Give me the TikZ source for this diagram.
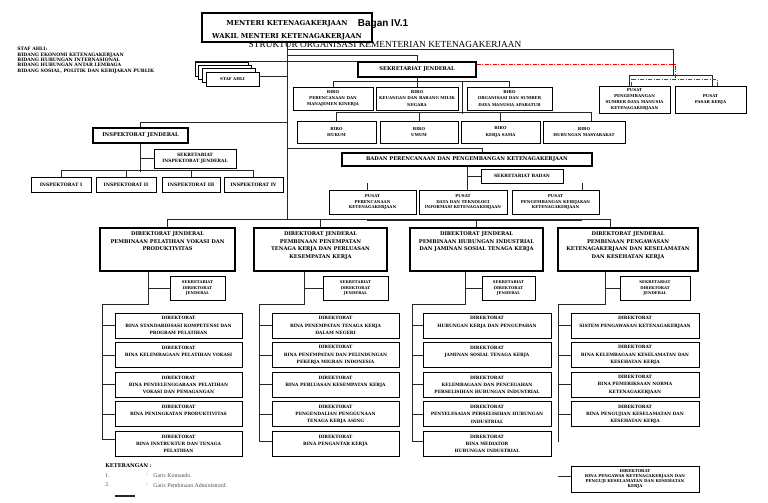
\documentclass[tikz,border=0pt]{standalone}
\usepackage{fontspec}
\setmainfont{Liberation Serif}
\newfontfamily\tebal{DejaVu Serif}
\newfontfamily\sansbagan{Liberation Sans}
\usepackage{xcolor}
\usepackage{tikz}
\usetikzlibrary{positioning}
\newcommand{\fmenteri}{\tebal\fontsize{6.8}{13}\selectfont\bfseries}
\newcommand{\fjudul}{\fontsize{9.3}{11}\selectfont}
\newcommand{\fbagan}{\sansbagan\fontsize{10}{12}\selectfont\bfseries}
\newcommand{\fdj}{\tebal\fontsize{5.15}{7.7}\selectfont\bfseries}
\newcommand{\finsp}{\tebal\fontsize{4.6}{6.5}\selectfont\bfseries}
\newcommand{\fdir}{\tebal\fontsize{4.4}{7.3}\selectfont\bfseries}
\newcommand{\fskij}{\tebal\fontsize{4.4}{5.6}\selectfont\bfseries}
\newcommand{\fbiro}{\tebal\fontsize{4.0}{6.2}\selectfont\bfseries}
\newcommand{\fpusat}{\tebal\fontsize{4.0}{5.9}\selectfont\bfseries}
\newcommand{\fsekr}{\tebal\fontsize{3.8}{5.3}\selectfont\bfseries}
\newcommand{\fpengawas}{\tebal\fontsize{4.0}{5.2}\selectfont\bfseries}
\newcommand{\fstaf}{\tebal\fontsize{4.6}{5.3}\selectfont\bfseries}
\newcommand{\fket}{\fontsize{5.8}{7}\selectfont}

\begin{document}
\begin{tikzpicture}[x=1pt, y=-1pt, line width=0.8pt, draw=black!85,
		unit/.style 2 args={
			draw=black,
			rectangle,
			minimum width=#1,
			minimum height=#2,
			inner sep=0pt,
			align=center,
			fill=white,
			line width=0.9pt},
		eselon/.style 2 args={unit={#1}{#2}, line width=1.8pt},
		adm/.style={red, line width=0.8pt, dash pattern=on 4pt off 1.5pt on 1pt off 1.5pt}
		]
		\useasboundingbox (0,0) rectangle (768,503);
		
		% draw titles
		\node[eselon={170}{29}] (menteri) at (287,27.5) {};
		\node[font=\fmenteri, align=center, inner sep=0pt] (menteriteks) at (287,30.5) {MENTERI KETENAGAKERJAAN\\WAKIL MENTERI KETENAGAKERJAAN};
		\node[font=\fbagan, inner sep=0pt] (bagan) at (383,24.5) {Bagan IV.1};
		\node[font=\fjudul, inner sep=0pt] (judul) at (385,44.5) {STRUKTUR ORGANISASI KEMENTERIAN KETENAGAKERJAAN};
		
		% staf ahli
		\node[anchor=north west, align=left, inner sep=0pt, font=\fstaf] (stafteks) at (17,47) {STAF AHLI:\\BIDANG EKONOMI KETENAGAKERJAAN\\BIDANG HUBUNGAN INTERNASIONAL\\BIDANG HUBUNGAN ANTAR LEMBAGA\\BIDANG SOSIAL, POLITIK DAN KEBIJAKAN PUBLIK};
		\foreach \k in {3,2,1}
		\node[unit={53}{14}, line width=0.7pt] (sa\k) at (232.5-3.7*\k, 79-3.3*\k) {};
		\node[unit={53}{14}, line width=0.7pt, font=\fbiro] (sa0) at (232.5,79) {STAF AHLI};
		
		% sekretariat jenderal and biro
		\node[eselon={118}{15}, font=\fdj] (sekjen) at (417,69.5) {SEKRETARIAT JENDERAL};
		\node[unit={80}{23}, font=\fbiro] (b11) at (333,98.5) {BIRO\\PERENCANAAN DAN\\MANAJEMEN KINERJA};
		\node[unit={82}{23}, font=\fbiro] (b12) at (417,98.5) {BIRO\\KEUANGAN DAN BARANG MILIK\\NEGARA};
		\node[unit={85}{23}, font=\fbiro] (b13) at (509.5,98.5) {BIRO\\ORGANISASI DAN SUMBER\\DAYA MANUSIA APARATUR};
		\node[unit={79}{22}, font=\fbiro] (b21) at (336.5,132) {BIRO\\HUKUM};
		\node[unit={78}{22}, font=\fbiro] (b22) at (419,132) {BIRO\\UMUM};
		\node[unit={79}{22}, font=\fbiro] (b23) at (500.5,132) {BIRO\\KERJA SAMA};
		\node[unit={82}{22}, font=\fbiro] (b24) at (584,132) {BIRO\\HUBUNGAN MASYARAKAT};
		
		% pusat under the minister
		\node[unit={71}{27}, font=\fpusat] (ppsdm) at (634.5,99.5) {PUSAT\\PENGEMBANGAN\\SUMBER DAYA MANUSIA\\KETENAGAKERJAAN};
		\node[unit={71}{27}, font=\fpusat] (pk) at (710.5,99.5) {PUSAT\\PASAR KERJA};
		
		% inspektorat
		\node[eselon={95}{15}, font=\fdj] (ij) at (140.5,135.5) {INSPEKTORAT JENDERAL};
		\node[unit={82}{19}, font=\fskij] (skij) at (195,158.5) {SEKRETARIAT\\INSPEKTORAT JENDERAL};
		\foreach \nama/\x/\w [count=\i] in {I/61/60, II/126/60, III/191/58, IV/253.5/59}
		\node[unit={\w}{15}, font=\finsp] (in\i) at (\x,184.5) {INSPEKTORAT \nama};
		
		% badan
		\node[unit={250}{13}, line width=1.2pt, font=\fdj] (badan) at (467,159.5) {BADAN PERENCANAAN DAN PENGEMBANGAN KETENAGAKERJAAN};
		\node[unit={82}{14}, font=\fdir] (skb) at (522,176) {SEKRETARIAT BADAN};
		\node[unit={87}{24}, font=\fpusat] (pp1) at (372.5,202) {PUSAT\\PERENCANAAN\\KETENAGAKERJAAN};
		\node[unit={88}{24}, font=\fpusat] (pp2) at (463,202) {PUSAT\\DATA DAN TEKNOLOGI\\INFORMASI KETENAGAKERJAAN};
		\node[unit={87}{24}, font=\fpusat] (pp3) at (555.5,202) {PUSAT\\PENGEMBANGAN KEBIJAKAN\\KETENAGAKERJAAN};
		
		% direktorat jenderal
		\foreach \k/\cx/\cw/\txt in {1/167.5/135/{DIREKTORAT JENDERAL\\PEMBINAAN PELATIHAN VOKASI DAN\\PRODUKTIVITAS},
			2/320.5/133/{DIREKTORAT JENDERAL\\PEMBINAAN PENEMPATAN\\TENAGA KERJA DAN PERLUASAN\\KESEMPATAN KERJA},
			3/476.5/133/{DIREKTORAT JENDERAL\\PEMBINAAN HUBUNGAN INDUSTRIAL\\DAN JAMINAN SOSIAL TENAGA KERJA},
			4/628/140/{DIREKTORAT JENDERAL\\PEMBINAAN PENGAWASAN\\KETENAGAKERJAAN DAN KESELAMATAN\\DAN KESEHATAN KERJA}} {
			\node[eselon={\cw}{43}] (dj\k) at (\cx,249.5) {};
			\node[font=\fdj, align=center, anchor=north, inner sep=0pt] (djt\k) at ([yshift=-4pt]dj\k.north) {\txt};
		}
		
		% direktorat
		\foreach \txt [count=\r] in {{DIREKTORAT\\BINA STANDARDISASI KOMPETENSI DAN\\PROGRAM PELATIHAN},
			{DIREKTORAT\\BINA KELEMBAGAAN PELATIHAN VOKASI\\~},
			{DIREKTORAT\\BINA PENYELENGGARAAN PELATIHAN\\VOKASI DAN PEMAGANGAN},
			{DIREKTORAT\\BINA PENINGKATAN PRODUKTIVITAS\\~},
			{DIREKTORAT\\BINA INSTRUKTUR DAN TENAGA\\PELATIHAN}}
		\node[unit={127}{25}, font=\fdir] (d1\r) at (178.5,295.9+29.6*\r) {\txt};
		\foreach \txt [count=\r] in {{DIREKTORAT\\BINA PENEMPATAN TENAGA KERJA\\DALAM NEGERI},
			{DIREKTORAT\\BINA PENEMPATAN DAN PELINDUNGAN\\PEKERJA MIGRAN INDONESIA},
			{DIREKTORAT\\BINA PERLUASAN KESEMPATAN KERJA\\~},
			{DIREKTORAT\\PENGENDALIAN PENGGUNAAN\\TENAGA KERJA ASING},
			{DIREKTORAT\\BINA PENGANTAR KERJA\\~}}
		\node[unit={127}{25}, font=\fdir] (d2\r) at (335.5,295.9+29.6*\r) {\txt};
		\foreach \txt [count=\r] in {{DIREKTORAT\\HUBUNGAN KERJA DAN PENGUPAHAN\\~},
			{DIREKTORAT\\JAMINAN SOSIAL TENAGA KERJA\\~},
			{DIREKTORAT\\KELEMBAGAAN DAN PENCEGAHAN\\PERSELISIHAN HUBUNGAN INDUSTRIAL},
			{DIREKTORAT\\PENYELESAIAN PERSELISIHAN HUBUNGAN\\INDUSTRIAL},
			{DIREKTORAT\\BINA MEDIATOR\\HUBUNGAN INDUSTRIAL}}
		\node[unit={128}{25}, font=\fdir] (d3\r) at (487,295.9+29.6*\r) {\txt};
		\foreach \txt [count=\r] in {{DIREKTORAT\\SISTEM PENGAWASAN KETENAGAKERJAAN\\~},
			{DIREKTORAT\\BINA KELEMBAGAAN KESELAMATAN DAN\\KESEHATAN KERJA},
			{DIREKTORAT\\BINA PEMERIKSAAN NORMA\\KETENAGAKERJAAN},
			{DIREKTORAT\\BINA PENGUJIAN KESELAMATAN DAN\\KESEHATAN KERJA}}
		\node[unit={128}{25}, font=\fdir] (d4\r) at (635,295.9+29.6*\r) {\txt};
		\node[unit={128}{26}, font=\fpengawas] (d45) at (635,479) {DIREKTORAT\\BINA PENGAWAS KETENAGAKERJAAN DAN\\PENGUJI KESELAMATAN DAN KESEHATAN\\KERJA};
		
		% draw garis komando
		\coordinate (hub) at (287,219.5);
		\coordinate (j1) at (287,49);
		\coordinate (j2) at (673,49);
		\coordinate (j3) at (673,75);
		\coordinate (j4) at (287,55);
		\coordinate (j5) at (287,148);
		\coordinate (j6) at (482,148);
		\coordinate (j7) at (287,122);
		\coordinate (b1) at (629,75);
		\coordinate (b2) at (712,75);
		\coordinate (v1) at (462,82);
		\coordinate (v2) at (462,114);
		\coordinate (tkA) at (367,183);
		\coordinate (tkB) at (582,183);
		\draw (menteri.south) -- (hub);
		\draw (j1) -- (j2) -- (j3);
		\draw (ppsdm.north -| b1) -- (b1) -- (b2) -- (pk.north -| b2);
		\draw (j4) -| (sekjen.north);
		\draw ([yshift=3pt]sa0.east) -- ([yshift=3pt]sa0.east -| hub);
		\draw[line width=1.5pt] (sa3.north west) -- (sa3.north west -| sekjen.west);
		\draw (sekjen.south) -- (b12.north);
		\draw (b11.north) -- ++(0,-5) -| (b13.north);
		\draw (v1) -- (v2);
		\draw (b21.north) -- ++(0,-8) -| ([xshift=7pt]b24.north);
		\draw (b22.north) -- ++(0,-8);
		\draw (b23.north) -- ++(0,-8);
		\draw (j7) -| (ij.north);
		\draw (ij.south) -- ++(0,28);
		\draw (ij.south |- skij.west) -- (skij.west);
		\draw (in1.north) -- ++(0,-6) -| (in4.north);
		\draw (in2.north) -- ++(0,-6);
		\draw (in3.north) -- ++(0,-6);
		\draw (j5) -- (j6) -- (j6 |- badan.north);
		\draw (badan.south) -- (badan.south |- pp2.north);
		\draw (badan.south |- skb.west) -- (skb.west);
		\draw (pp1.north -| tkA) -- (tkA);
		\draw (pp3.north -| tkB) -- (tkB);
		\draw (dj1.north) |- (hub) -| ([xshift=-18pt]dj4.north);
		\draw (dj2.north) -- (dj2.north |- hub);
		\draw (dj3.north) -- (dj3.north |- hub);
		\draw[line width=1.5pt] ([yshift=-1pt]tkA |- hub) -- ([yshift=-1pt]tkB |- hub);
		
		% sekretariat direktorat jenderal and spines
		\foreach \k/\dx/\sx/\sy/\skx/\skw in {1/148/102/439/197.5/55, 2/304/259/441/355.5/65, 3/465/412/441/508.5/53, 4/605/558/442/655/70} {
			\node[unit={\skw}{24}, font=\fsekr] (sk\k) at (\skx,288) {SEKRETARIAT\\DIREKTORAT\\JENDERAL};
			\coordinate (tk\k) at (\dx,304);
			\coordinate (sp\k) at (\sx,304);
			\coordinate (se\k) at (\sx,\sy);
			\draw (dj\k.south -| tk\k) -- (tk\k) -- (sp\k) -- (se\k);
			\draw (sk\k.west -| tk\k) -- (sk\k.west);
			\foreach \r in {1,...,4}
			\draw (d\k\r.west -| sp\k) -- (d\k\r.west);
		}
		\foreach \k in {1,2,3}
		\draw (se\k) -- (se\k -| d\k5.west);
		\coordinate (st4) at (558,476);
		\draw (st4) -- (st4 -| d45.west);
		
		% draw garis pembinaan administratif
		\coordinate (r1) at (675,64);
		\coordinate (r2) at (675,79);
		\coordinate (r3) at (631,79);
		\coordinate (r4) at (717,79);
		\draw[adm] (sekjen.east |- r1) -- (r1) -- (r2);
		\draw[adm] (r3 |- ppsdm.north) -- (r3) -- (r4) -- (r4 |- pk.north);
		
		% keterangan
		\node[anchor=west, inner sep=0pt, font=\tebal\fontsize{5.2}{7}\selectfont\bfseries] (ket) at (105,466) {KETERANGAN :};
		\foreach \nomor/\uraian [count=\i] in {1./Garis Komando., 2./Garis Pembinaan Administratif.} {
			\node[anchor=west, inner sep=0pt, font=\fket, text=black!70] (ketno\i) at (105,466+9.5*\i) {\nomor};
			\node[anchor=west, inner sep=0pt, font=\fket, text=black!70] (ketcol\i) at (146,466+9.5*\i) {:};
			\node[anchor=west, inner sep=0pt, font=\fket, text=black!70] (ketur\i) at (153,466+9.5*\i) {\uraian};
		}
		\coordinate (lg1) at (115,496);
		\coordinate (lg2) at (135,496);
		\draw[line width=1.2pt] (lg1) -- (lg2);
		\end{tikzpicture}
\end{document}
